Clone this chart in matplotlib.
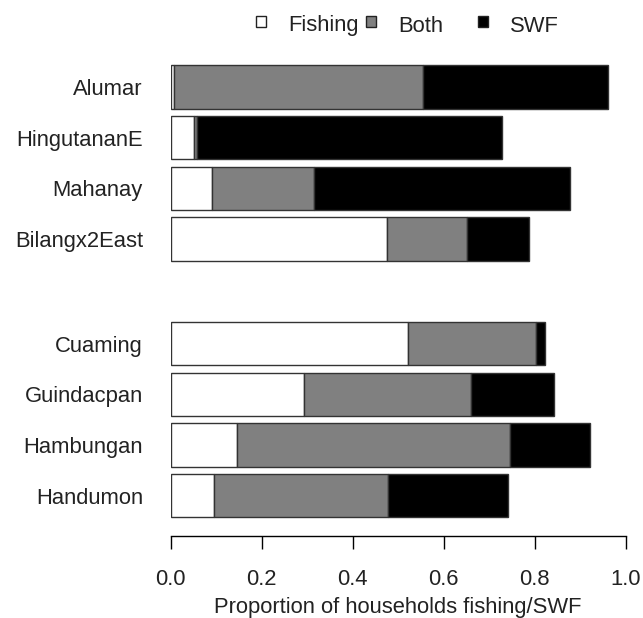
import matplotlib
matplotlib.use("Agg")
import matplotlib.pyplot as plt
from matplotlib.patches import Rectangle
import numpy as np

plt.rcParams['font.family'] = ['Liberation Sans', 'DejaVu Sans']

sites = ["Alumar", "HingutananE", "Mahanay", "Bilangx2East",
         "Cuaming", "Guindacpan", "Hambungan", "Handumon"]
fishing = [0.008, 0.052, 0.090, 0.475, 0.522, 0.292, 0.146, 0.096]
both    = [0.547, 0.005, 0.226, 0.177, 0.280, 0.369, 0.599, 0.381]
swf     = [0.407, 0.672, 0.562, 0.136, 0.020, 0.182, 0.177, 0.264]
series_names = ["Fishing", "Both", "SWF"]
colors = ["white", "#808080", "black"]
xticks = [0.0, 0.2, 0.4, 0.6, 0.8, 1.0]
xlabel = "Proportion of households fishing/SWF"

ypos = [8.06, 7.06, 6.06, 5.06, 3, 2, 1, 0]

W, H = 643, 618
fig = plt.figure(figsize=(W/100, H/100), dpi=100)
x0, x1 = 170.7, 625.7
ybot, ytop = 535.7, 60.0
ax = fig.add_axes([x0/W, 1 - ybot/H, (x1-x0)/W, (ybot-ytop)/H])

left = np.zeros(len(sites))
for vals, c in zip([fishing, both, swf], colors):
    ax.barh(ypos, vals, left=left, height=0.855, color=c,
            edgecolor="#333333", linewidth=1.0)
    left += np.array(vals)

ax.set_xlim(0, 1)
ax.set_ylim(-0.789, 8.594)
for s in ["top", "right", "left"]:
    ax.spines[s].set_visible(False)
ax.spines["bottom"].set_bounds(0, 1)
ax.spines["bottom"].set_linewidth(1.0)
ax.set_xticks(xticks)
ax.set_xticklabels([f"{t:.1f}" for t in xticks], fontsize=15.8, color="#222222")
ax.tick_params(axis="x", length=9, width=1.0, pad=15)
ax.set_yticks(ypos)
ax.set_yticklabels(sites, fontsize=15.8, color="#222222")
ax.tick_params(axis="y", length=0, pad=20)
ax.set_xlabel(xlabel, fontsize=15.8, color="#222222", labelpad=5)

# legend drawn manually at top
sq = 10
for (sx, tx, name, c) in [(255.5, 288, "Fishing", "white"),
                          (366, 398, "Both", "#808080"),
                          (478, 510, "SWF", "black")]:
    fig.add_artist(Rectangle((sx/W, 1 - 26.5/H), sq/W, sq/H,
                             transform=fig.transFigure, facecolor=c,
                             edgecolor="#222222", linewidth=1.0))
    fig.text(tx/W, 1 - 31.5/H, name, fontsize=15.8, va="baseline", ha="left",
             color="#222222")

fig.savefig("out.png", dpi=100)
